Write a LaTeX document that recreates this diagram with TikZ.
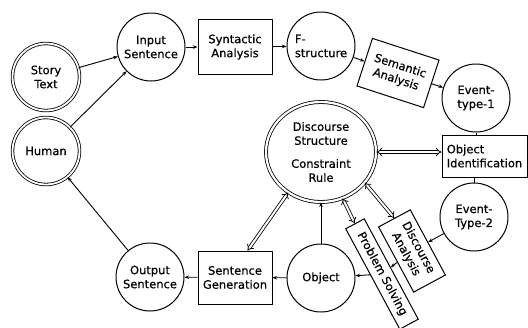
\documentclass[tikz,border=0pt]{standalone}
\usepackage{fontspec}
\setmainfont{DejaVu Sans}
\newfontfamily\lblfont{DejaVu Sans}[FakeBold=0.5]
\usetikzlibrary{arrows.meta,shapes.geometric}
\begin{document}
\begin{tikzpicture}[x=1pt,y=-1pt,
  font=\lblfont\fontsize{11.5}{14}\selectfont,
  every node/.style={align=center, text=black},
  proc/.style={circle, draw, line width=1pt, minimum size=68pt, inner sep=0pt},
  src/.style={circle, draw, line width=0.8pt, double, double distance=1.8pt, minimum size=67pt, inner sep=0pt},
  box/.style={rectangle, draw, line width=1pt, inner sep=0pt},
  flow/.style={draw, line width=0.9pt, -{Stealth[length=4.5pt,width=3.5pt]}},
  link/.style={draw, line width=0.9pt},
  dbl/.style={draw, line width=0.8pt, double, double distance=2pt, {Implies}-{Implies}}
]
\useasboundingbox (0,0) rectangle (528,327);
\fill[white] (0,0) rectangle (528,327);

% sources and sinks
\node[src] (story) at (46,77) {Story\\Text};
\node[src] (human) at (46,151) {Human};

% analysis chain along the top
\node[proc] (input) at (151,47) {Input\\Sentence};
\node[box, minimum width=74pt, minimum height=55pt] (syn) at (235,47) {Syntactic\\Analysis};
\node[proc, align=left] (fs) at (321,46) {F-\\structure};
\node[box, minimum width=70pt, minimum height=50pt, rotate=-18] (sem) at (398,73) {Semantic\\Analysis};
\node[proc] (ev1) at (476,98) {Event-\\type-1};
\node[box, minimum width=85pt, minimum height=42pt, align=left] (oid) at (484.5,156) {Object\\Identification};
\node[proc] (ev2) at (474,217) {Event-\\Type-2};

% central knowledge store
\node[ellipse, draw, line width=0.8pt, double, double distance=2.2pt,
      minimum width=110pt, minimum height=100pt, inner sep=0pt] (ds) at (321,152)
      {Discourse\\Structure\\[9pt]Constraint\\Rule};

% discourse handling and generation chain
\node[box, minimum width=74pt, minimum height=36pt, rotate=-61.7] (da) at (412,251) {Discourse\\Analysis};
\node[box, minimum width=114pt, minimum height=21pt, rotate=-61.7] (ps) at (382,274) {Problem Solving};
\node[proc] (obj) at (321,278) {Object};
\node[box, minimum width=74pt, minimum height=53pt] (gen) at (235,277.5) {Sentence\\Generation};
\node[proc] (out) at (150,277) {Output\\Sentence};

% flow connectors
\draw[flow] (story) -- (input);
\draw[flow] (human) -- (input);
\draw[flow] (input) -- (syn);
\draw[flow] (syn) -- (fs);
\draw[flow] (fs) -- (sem);
\draw[flow] (sem) -- (ev1);
\draw[link] (ev1.south) -- (ev1.south |- oid.north);
\draw[link] (ev2.north) -- (ev2.north |- oid.south);
\draw[flow] (ev2) -- (da);
\draw[flow] (da) -- (ps);
\draw[flow] (ps) -- (obj);
\draw[flow] (obj) -- (gen);
\draw[flow] (gen) -- (out);
\draw[flow] (out) -- (human);
\draw[flow] (obj) -- (ds);

% two-way links with the discourse store
\draw[dbl] (ds.east) -- (ds.east -| oid.west);
\draw[dbl] (ds.-35) -- (da.west);
\draw[dbl] (ds.-65) -- (ps.west);
\draw[dbl] (ds.-129) -- (gen.65);
\end{tikzpicture}
\end{document}
